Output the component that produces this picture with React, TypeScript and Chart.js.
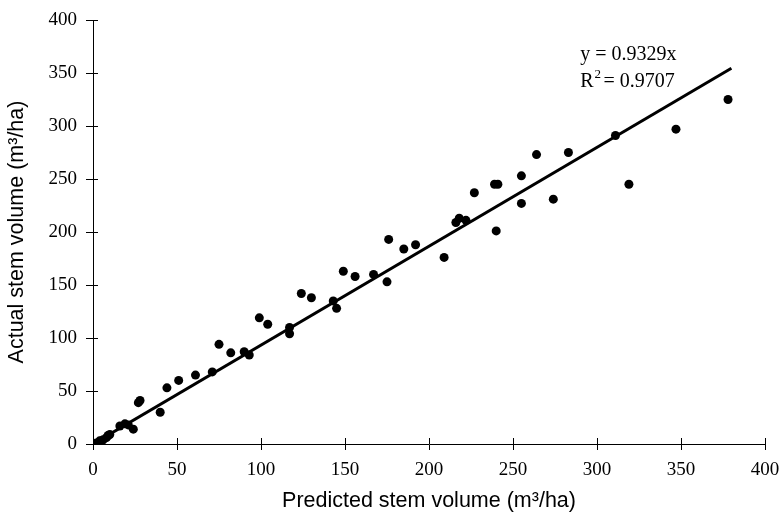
import React, { useEffect, useRef } from "react";
import { Chart, registerables } from "chart.js";

Chart.register(...registerables);

const predicted = [2, 4, 6, 8, 9, 10, 16, 19, 21, 24, 28, 27, 40, 44, 51, 61, 71, 75, 82, 90, 93, 99, 104, 117, 117, 124, 130, 143, 145, 149, 156, 167, 176, 175, 185, 192, 209, 216, 218, 222, 227, 239, 241, 240, 255, 255, 264, 274, 283, 311, 319, 347, 378];
const actual = [1, 3, 4, 6, 8, 9, 17, 19, 18, 14, 41, 39, 30, 53, 60, 65, 68, 94, 86, 87, 84, 119, 113, 110, 104, 142, 138, 135, 128, 163, 158, 160, 193, 153, 184, 188, 176, 209, 213, 211, 237, 245, 245, 201, 253, 227, 273, 231, 275, 291, 245, 297, 325];
const slope = 0.9329;
const lineX = [0, 380];
const xTicks = [0, 50, 100, 150, 200, 250, 300, 350, 400];
const yTicks = [0, 50, 100, 150, 200, 250, 300, 350, 400];
const eqText = "y = 0.9329x";
const r2Text = " = 0.9707";

export default function App() {
  const ref = useRef<HTMLCanvasElement>(null);
  useEffect(() => {
    const overlay = {
      id: "overlay",
      afterDraw(chart: any) {
        const ctx = chart.ctx;
        const xs = chart.scales.x;
        const ys = chart.scales.y;
        ctx.save();
        ctx.strokeStyle = "#000";
        ctx.lineWidth = 1;
        const yb = ys.getPixelForValue(0);
        xTicks.forEach((v) => {
          const px = Math.round(xs.getPixelForValue(v)) + 0.5;
          ctx.beginPath();
          ctx.moveTo(px, yb);
          ctx.lineTo(px, yb - 6);
          ctx.stroke();
        });
        const xl = xs.getPixelForValue(0);
        yTicks.forEach((v) => {
          const py = Math.round(ys.getPixelForValue(v)) + 0.5;
          ctx.beginPath();
          ctx.moveTo(xl, py);
          ctx.lineTo(xl + 5, py);
          ctx.stroke();
        });
        ctx.fillStyle = "#000";
        ctx.font = "20px 'Liberation Serif'";
        ctx.textBaseline = "alphabetic";
        const tx = xs.getPixelForValue(290);
        ctx.fillText(eqText, tx, ys.getPixelForValue(362));
        ctx.fillText("R", tx, ys.getPixelForValue(337));
        const rw = ctx.measureText("R").width;
        ctx.font = "13px 'Liberation Serif'";
        ctx.fillText("2", tx + rw + 1, ys.getPixelForValue(345));
        ctx.font = "20px 'Liberation Serif'";
        ctx.fillText(r2Text, tx + rw + 5, ys.getPixelForValue(337));
        ctx.restore();
      },
    };
    const chart = new Chart(ref.current!, {
      type: "scatter",
      data: {
        datasets: [
          {
            data: lineX.map((x) => ({ x, y: slope * x })),
            showLine: true,
            borderColor: "#000",
            borderWidth: 3,
            pointRadius: 0,
            order: 1,
          } as any,
          {
            data: predicted.map((x, i) => ({ x, y: actual[i] })),
            backgroundColor: "#000",
            borderColor: "#000",
            pointRadius: 4.5,
            pointBorderWidth: 0,
            order: 0,
          },
        ],
      },
      options: {
        animation: false,
        responsive: false,
        layout: { padding: { top: 20, right: 18, left: 0, bottom: 0 } },
        plugins: { legend: { display: false }, tooltip: { enabled: false } },
        scales: {
          x: {
            type: "linear",
            min: 0,
            max: 400,
            afterBuildTicks: (s: any) => {
              s.ticks = xTicks.map((v) => ({ value: v }));
            },
            afterFit: (s: any) => {
              s.height = 74;
              s.paddingRight = 0;
              s.paddingLeft = 0;
            },
            ticks: { color: "#000", font: { family: "'Liberation Serif'", size: 19 }, padding: 9 },
            grid: { drawOnChartArea: false, tickLength: 6, color: "#000" },
            border: { color: "#000", width: 1 },
            title: {
              display: true,
              text: "Predicted stem volume (m³/ha)",
              color: "#000",
              font: { family: "'Liberation Sans'", size: 21.5 },
              padding: { top: 2 },
            },
          },
          y: {
            type: "linear",
            min: 0,
            max: 400,
            afterBuildTicks: (s: any) => {
              s.ticks = yTicks.map((v) => ({ value: v }));
            },
            afterFit: (s: any) => {
              s.width = 93;
              s.paddingTop = 0;
              s.paddingBottom = 0;
            },
            ticks: { color: "#000", font: { family: "'Liberation Serif'", size: 19 }, padding: 9 },
            grid: { drawOnChartArea: false, tickLength: 7, color: "#000" },
            border: { color: "#000", width: 1 },
            title: {
              display: true,
              text: "Actual stem volume (m³/ha)",
              color: "#000",
              font: { family: "'Liberation Sans'", size: 21.5 },
              padding: { bottom: 4 },
            },
          },
        },
      },
      plugins: [overlay],
    });
    return () => chart.destroy();
  }, []);
  return (
    <div style={{ position: "absolute", left: 0, top: 0, width: 783, height: 518, background: "#fff" }}>
      <canvas ref={ref} width={783} height={518} />
    </div>
  );
}
